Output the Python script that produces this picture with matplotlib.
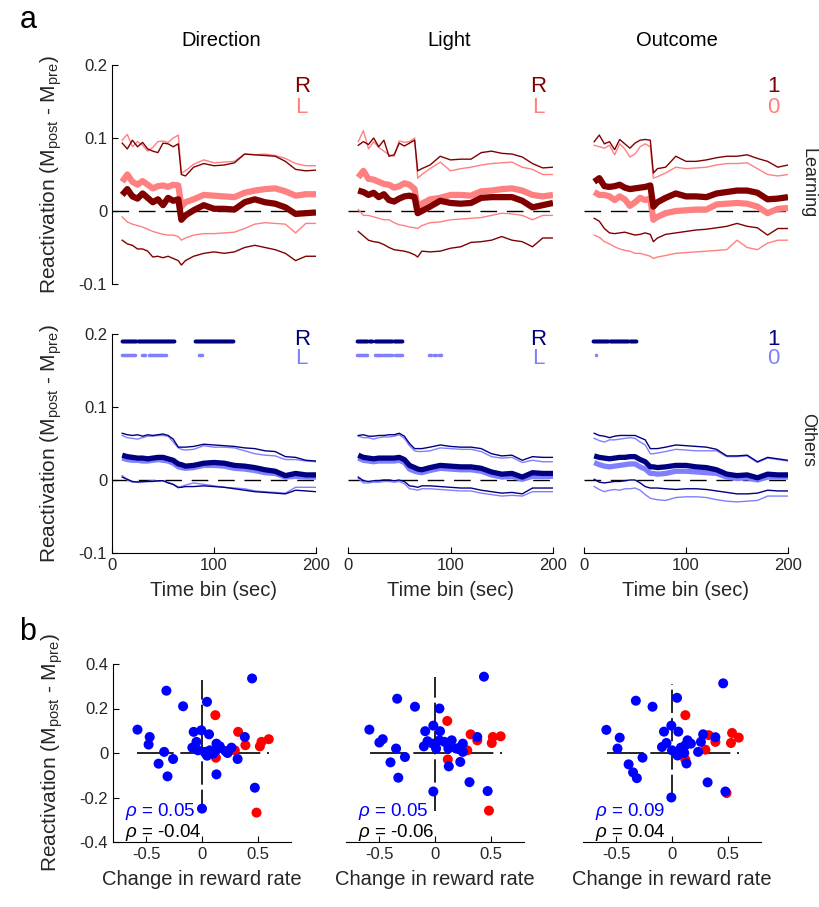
import matplotlib
matplotlib.use('Agg')
import matplotlib.pyplot as plt
import numpy as np

plt.rcParams['font.family'] = ['Liberation Sans', 'DejaVu Sans']
plt.rcParams['mathtext.fontset'] = 'custom'
plt.rcParams['mathtext.rm'] = 'Liberation Sans'
plt.rcParams['mathtext.it'] = 'Liberation Sans:italic'

# time bins (sec)
t = [10, 15, 20, 25, 30, 35, 40, 45, 50, 55, 60, 65, 68, 72, 80, 90, 100, 110, 120, 130, 140, 150, 160, 170, 180, 190, 200]

# ---- Learning, Direction (R / L) ----
dir_learn_R_hi = [0.093, 0.085, 0.097, 0.088, 0.094, 0.085, 0.082, 0.080, 0.093, 0.092, 0.088, 0.092, 0.050, 0.048, 0.060, 0.065, 0.062, 0.063, 0.066, 0.078, 0.077, 0.076, 0.075, 0.068, 0.057, 0.055, 0.056]
dir_learn_R = [0.022, 0.030, 0.020, 0.017, 0.024, 0.018, 0.012, 0.016, 0.008, 0.018, 0.014, 0.016, -0.012, -0.006, 0.001, 0.008, 0.003, 0.003, 0.002, 0.012, 0.016, 0.012, 0.010, 0.005, -0.004, -0.003, -0.002]
dir_learn_R_lo = [-0.040, -0.045, -0.047, -0.052, -0.052, -0.055, -0.063, -0.062, -0.064, -0.062, -0.065, -0.068, -0.074, -0.068, -0.062, -0.058, -0.056, -0.058, -0.056, -0.050, -0.047, -0.050, -0.053, -0.058, -0.068, -0.062, -0.062]
dir_learn_L_hi = [0.097, 0.105, 0.088, 0.095, 0.090, 0.082, 0.087, 0.095, 0.096, 0.094, 0.100, 0.104, 0.052, 0.055, 0.064, 0.070, 0.066, 0.067, 0.068, 0.078, 0.077, 0.078, 0.076, 0.072, 0.065, 0.062, 0.062]
dir_learn_L = [0.040, 0.050, 0.040, 0.036, 0.041, 0.036, 0.031, 0.034, 0.035, 0.033, 0.036, 0.035, 0.006, 0.012, 0.016, 0.022, 0.021, 0.020, 0.019, 0.025, 0.028, 0.030, 0.031, 0.027, 0.021, 0.023, 0.023]
dir_learn_L_lo = [-0.008, -0.015, -0.018, -0.020, -0.022, -0.025, -0.028, -0.030, -0.032, -0.033, -0.033, -0.035, -0.040, -0.037, -0.033, -0.031, -0.031, -0.030, -0.029, -0.024, -0.018, -0.016, -0.017, -0.018, -0.030, -0.017, -0.017]

# ---- Learning, Light (R / L) ----
lig_learn_R_hi = [0.090, 0.095, 0.091, 0.100, 0.088, 0.097, 0.075, 0.077, 0.093, 0.089, 0.093, 0.097, 0.055, 0.058, 0.063, 0.075, 0.070, 0.071, 0.071, 0.080, 0.082, 0.079, 0.078, 0.074, 0.065, 0.059, 0.060]
lig_learn_R = [0.028, 0.026, 0.022, 0.025, 0.019, 0.023, 0.015, 0.013, 0.017, 0.020, 0.021, 0.019, -0.003, 0.000, 0.006, 0.014, 0.011, 0.010, 0.011, 0.018, 0.019, 0.019, 0.019, 0.014, 0.005, 0.008, 0.011]
lig_learn_R_lo = [-0.028, -0.034, -0.040, -0.042, -0.043, -0.046, -0.050, -0.053, -0.054, -0.055, -0.057, -0.060, -0.063, -0.055, -0.056, -0.055, -0.051, -0.049, -0.043, -0.042, -0.040, -0.035, -0.040, -0.042, -0.049, -0.037, -0.037]
lig_learn_L_hi = [0.095, 0.110, 0.085, 0.095, 0.087, 0.082, 0.077, 0.075, 0.096, 0.094, 0.095, 0.100, 0.045, 0.050, 0.058, 0.067, 0.055, 0.058, 0.060, 0.063, 0.065, 0.066, 0.067, 0.060, 0.057, 0.050, 0.050]
lig_learn_L = [0.046, 0.055, 0.044, 0.043, 0.040, 0.037, 0.036, 0.032, 0.034, 0.038, 0.036, 0.030, 0.004, 0.010, 0.016, 0.018, 0.022, 0.022, 0.021, 0.027, 0.028, 0.030, 0.031, 0.028, 0.022, 0.020, 0.022]
lig_learn_L_lo = [0.002, -0.006, -0.006, -0.008, -0.010, -0.012, -0.012, -0.016, -0.019, -0.020, -0.022, -0.023, -0.024, -0.020, -0.016, -0.015, -0.012, -0.011, -0.010, -0.009, -0.006, -0.003, -0.004, -0.006, -0.012, -0.006, -0.006]

# ---- Learning, Outcome (1 / 0) ----
out_learn_1_hi = [0.095, 0.104, 0.092, 0.095, 0.084, 0.098, 0.092, 0.086, 0.093, 0.097, 0.098, 0.097, 0.052, 0.058, 0.060, 0.075, 0.068, 0.068, 0.070, 0.073, 0.075, 0.075, 0.077, 0.072, 0.068, 0.060, 0.063]
out_learn_1 = [0.040, 0.045, 0.034, 0.033, 0.034, 0.036, 0.032, 0.030, 0.031, 0.032, 0.033, 0.035, 0.006, 0.012, 0.018, 0.024, 0.020, 0.020, 0.019, 0.024, 0.026, 0.028, 0.028, 0.025, 0.016, 0.017, 0.019]
out_learn_1_lo = [-0.010, -0.014, -0.024, -0.030, -0.031, -0.030, -0.029, -0.031, -0.033, -0.032, -0.030, -0.032, -0.042, -0.037, -0.032, -0.030, -0.028, -0.026, -0.025, -0.023, -0.021, -0.017, -0.021, -0.023, -0.033, -0.024, -0.024]
out_learn_0_hi = [0.090, 0.088, 0.086, 0.090, 0.077, 0.092, 0.085, 0.074, 0.078, 0.088, 0.092, 0.088, 0.045, 0.047, 0.052, 0.060, 0.058, 0.059, 0.060, 0.063, 0.065, 0.065, 0.066, 0.058, 0.050, 0.048, 0.050]
out_learn_0 = [0.026, 0.022, 0.022, 0.020, 0.015, 0.020, 0.016, 0.007, 0.012, 0.018, 0.015, 0.017, -0.012, -0.008, -0.003, 0.000, 0.001, 0.002, 0.002, 0.009, 0.010, 0.011, 0.010, 0.006, -0.003, 0.003, 0.004]
out_learn_0_lo = [-0.033, -0.036, -0.042, -0.045, -0.049, -0.052, -0.054, -0.055, -0.058, -0.058, -0.060, -0.062, -0.065, -0.063, -0.061, -0.058, -0.057, -0.056, -0.055, -0.054, -0.053, -0.040, -0.050, -0.053, -0.044, -0.040, -0.040]

# ---- Others, Direction (R / L) ----
dir_oth_R_hi = [0.064, 0.062, 0.061, 0.062, 0.060, 0.062, 0.061, 0.062, 0.063, 0.061, 0.056, 0.045, 0.045, 0.045, 0.046, 0.049, 0.048, 0.047, 0.046, 0.044, 0.043, 0.040, 0.039, 0.032, 0.031, 0.027, 0.026]
dir_oth_R = [0.034, 0.032, 0.031, 0.030, 0.030, 0.029, 0.030, 0.031, 0.031, 0.029, 0.027, 0.022, 0.021, 0.019, 0.020, 0.023, 0.024, 0.023, 0.020, 0.019, 0.017, 0.014, 0.012, 0.006, 0.009, 0.007, 0.007]
dir_oth_R_lo = [0.004, 0.001, -0.002, -0.003, -0.002, -0.002, -0.002, -0.001, -0.001, -0.004, -0.006, -0.010, -0.010, -0.009, -0.009, -0.008, -0.009, -0.010, -0.012, -0.014, -0.016, -0.017, -0.018, -0.019, -0.014, -0.015, -0.016]
dir_oth_L_hi = [0.061, 0.058, 0.057, 0.056, 0.058, 0.060, 0.060, 0.061, 0.061, 0.060, 0.052, 0.044, 0.042, 0.041, 0.042, 0.047, 0.045, 0.045, 0.044, 0.040, 0.036, 0.034, 0.033, 0.028, 0.028, 0.026, 0.025]
dir_oth_L = [0.030, 0.028, 0.027, 0.027, 0.026, 0.026, 0.027, 0.028, 0.027, 0.026, 0.023, 0.018, 0.017, 0.016, 0.017, 0.020, 0.020, 0.019, 0.016, 0.015, 0.013, 0.010, 0.009, 0.004, 0.005, 0.004, 0.004]
dir_oth_L_lo = [0.006, 0.000, -0.003, -0.002, -0.003, -0.002, -0.001, -0.002, -0.001, -0.003, -0.006, -0.011, -0.009, -0.007, -0.004, -0.006, -0.008, -0.010, -0.011, -0.012, -0.015, -0.016, -0.017, -0.018, -0.010, -0.010, -0.010]

# ---- Others, Light (R / L) ----
lig_oth_R_hi = [0.061, 0.062, 0.060, 0.060, 0.061, 0.061, 0.062, 0.062, 0.064, 0.060, 0.050, 0.043, 0.043, 0.043, 0.045, 0.048, 0.046, 0.045, 0.045, 0.043, 0.036, 0.033, 0.034, 0.027, 0.032, 0.031, 0.031]
lig_oth_R = [0.034, 0.031, 0.030, 0.029, 0.030, 0.030, 0.030, 0.030, 0.031, 0.028, 0.020, 0.017, 0.015, 0.014, 0.017, 0.020, 0.019, 0.018, 0.018, 0.016, 0.011, 0.008, 0.009, 0.004, 0.010, 0.009, 0.009]
lig_oth_R_lo = [0.004, -0.001, -0.002, -0.001, -0.001, 0.000, 0.000, -0.001, 0.000, -0.002, -0.008, -0.009, -0.010, -0.008, -0.008, -0.009, -0.010, -0.011, -0.011, -0.014, -0.016, -0.018, -0.017, -0.019, -0.011, -0.011, -0.011]
lig_oth_L_hi = [0.060, 0.058, 0.058, 0.056, 0.058, 0.059, 0.059, 0.060, 0.062, 0.057, 0.047, 0.040, 0.039, 0.039, 0.040, 0.044, 0.043, 0.042, 0.042, 0.039, 0.032, 0.030, 0.031, 0.024, 0.027, 0.025, 0.025]
lig_oth_L = [0.030, 0.027, 0.026, 0.025, 0.026, 0.026, 0.026, 0.026, 0.027, 0.024, 0.015, 0.012, 0.011, 0.010, 0.013, 0.016, 0.015, 0.014, 0.014, 0.012, 0.007, 0.004, 0.005, 0.001, 0.005, 0.005, 0.005]
lig_oth_L_lo = [0.002, -0.004, -0.004, -0.003, -0.003, -0.002, -0.002, -0.003, -0.002, -0.005, -0.012, -0.013, -0.014, -0.012, -0.012, -0.013, -0.014, -0.015, -0.015, -0.018, -0.020, -0.022, -0.021, -0.022, -0.016, -0.016, -0.016]

# ---- Others, Outcome (1 / 0) ----
out_oth_1_hi = [0.064, 0.061, 0.060, 0.058, 0.060, 0.061, 0.061, 0.061, 0.061, 0.058, 0.055, 0.043, 0.043, 0.043, 0.045, 0.048, 0.047, 0.046, 0.045, 0.042, 0.033, 0.033, 0.034, 0.025, 0.031, 0.029, 0.027]
out_oth_1 = [0.033, 0.031, 0.030, 0.029, 0.030, 0.031, 0.031, 0.032, 0.032, 0.028, 0.025, 0.018, 0.018, 0.017, 0.018, 0.020, 0.020, 0.018, 0.017, 0.014, 0.008, 0.006, 0.007, 0.003, 0.008, 0.007, 0.007]
out_oth_1_lo = [0.001, -0.003, -0.004, -0.003, -0.002, -0.002, -0.001, 0.000, 0.000, -0.004, -0.009, -0.011, -0.011, -0.011, -0.012, -0.013, -0.012, -0.012, -0.013, -0.015, -0.017, -0.019, -0.019, -0.018, -0.014, -0.015, -0.015]
out_oth_0_hi = [0.057, 0.054, 0.052, 0.055, 0.055, 0.056, 0.057, 0.058, 0.057, 0.052, 0.048, 0.036, 0.036, 0.037, 0.039, 0.042, 0.041, 0.040, 0.040, 0.040, 0.032, 0.032, 0.033, 0.024, 0.030, 0.028, 0.026]
out_oth_0 = [0.024, 0.021, 0.019, 0.018, 0.019, 0.020, 0.021, 0.022, 0.022, 0.018, 0.015, 0.009, 0.009, 0.008, 0.009, 0.012, 0.012, 0.011, 0.010, 0.009, 0.004, 0.002, 0.003, 0.000, 0.004, 0.004, 0.004]
out_oth_0_lo = [-0.009, -0.013, -0.016, -0.014, -0.013, -0.014, -0.012, -0.012, -0.011, -0.014, -0.020, -0.025, -0.026, -0.027, -0.028, -0.024, -0.023, -0.023, -0.024, -0.027, -0.029, -0.030, -0.029, -0.028, -0.022, -0.022, -0.022]

# significant time bins (start, end) in the Others row
dir_sig_R = [(10, 61), (81, 119)]
dir_sig_L = [(10, 23), (29, 32), (36, 53), (85, 88)]
lig_sig_R = [(9, 23), (26, 43), (45, 53)]
lig_sig_L = [(9, 19), (26, 32), (34, 43), (46, 53), (79, 81), (84, 86), (89, 91)]
out_sig_R = [(9, 24), (25, 43), (45, 51)]
out_sig_L = [(12, 12)]

titles = ['Direction', 'Light', 'Outcome']
cond_labels = [('R', 'L'), ('R', 'L'), ('1', '0')]

# ---- scatter: change in reward rate vs reactivation ----
sc1_blue_x = [0.45, -0.32, -0.17, 0.045, -0.58, -0.47, -0.48, -0.34, -0.26, -0.39, -0.31, -0.075, -0.006, 0.063, -0.05, -0.087, -0.036, 0.024, 0.07, 0.13, 0.145, 0.10, 0.045, 0.21, 0.265, 0.23, 0.32, 0.385, 0.13, 0.475, 0.0, 0.16, 0.12]
sc1_blue_y = [0.335, 0.28, 0.21, 0.23, 0.105, 0.072, 0.038, 0.005, -0.027, -0.048, -0.105, 0.095, 0.102, 0.084, 0.05, 0.024, 0.012, 0.005, 0.012, 0.042, 0.02, -0.003, -0.012, 0.009, 0.024, 0.0, -0.027, 0.072, -0.096, -0.156, -0.25, 0.03, 0.01]
sc1_red_x = [0.12, 0.325, 0.39, 0.6, 0.535, 0.52, 0.295, 0.125, 0.49]
sc1_red_y = [0.17, 0.095, 0.035, 0.062, 0.05, 0.03, 0.012, -0.021, -0.268]

sc2_blue_x = [0.44, -0.34, -0.18, 0.04, -0.59, -0.47, -0.5, -0.35, -0.27, -0.4, -0.33, -0.015, -0.088, 0.045, -0.067, -0.1, -0.02, 0.01, 0.04, 0.085, 0.15, 0.12, 0.19, 0.23, 0.25, 0.25, 0.124, 0.227, 0.38, 0.31, 0.473, -0.015]
sc2_blue_y = [0.343, 0.244, 0.208, 0.2, 0.105, 0.062, 0.047, 0.02, -0.018, -0.042, -0.111, 0.123, 0.098, 0.098, 0.053, 0.03, 0.042, 0.02, 0.057, 0.05, 0.057, 0.02, 0.02, 0.027, 0.042, 0.005, -0.06, -0.04, 0.072, -0.131, -0.171, -0.173]
sc2_red_x = [0.11, 0.32, 0.38, 0.52, 0.59, 0.51, 0.29, 0.115, 0.485]
sc2_red_y = [0.144, 0.084, 0.057, 0.072, 0.075, 0.045, 0.012, -0.029, -0.259]

sc3_blue_x = [0.46, -0.325, -0.175, 0.045, -0.59, -0.47, -0.49, -0.265, -0.39, -0.35, -0.316, -0.006, -0.072, 0.057, -0.05, -0.09, 0.0, 0.08, 0.12, 0.14, 0.17, 0.11, 0.05, 0.13, 0.235, 0.26, 0.28, 0.39, 0.32, 0.48, -0.006]
sc3_blue_y = [0.313, 0.235, 0.208, 0.248, 0.104, 0.069, 0.02, -0.021, -0.051, -0.087, -0.113, 0.123, 0.096, 0.096, 0.045, 0.027, 0.012, 0.024, 0.035, 0.057, 0.042, 0.0, -0.011, -0.047, 0.005, 0.05, 0.084, 0.071, -0.132, -0.173, -0.2]
sc3_red_x = [0.12, 0.39, 0.54, 0.6, 0.53, 0.3, 0.12, 0.49, 0.33]
sc3_red_y = [0.17, 0.05, 0.09, 0.069, 0.045, 0.015, -0.03, -0.18, 0.08]

rho_blue = ['0.05', '0.05', '0.09']
rho_black = ['-0.04', '-0.06', '0.04']
cross_h = [(-0.58, 0.6), (-0.58, 0.6), (-0.58, 0.6)]
cross_v = [(-0.27, 0.33), (-0.26, 0.34), (-0.2, 0.31)]

# colours
DRED, LRED = '#800000', '#ff8080'
DBLUE, LBLUE = '#000080', '#8080ff'
TXT = '#262626'

W, H = 819, 907
fig = plt.figure(figsize=(W / 100, H / 100), dpi=100)


def box(x0, y0, x1, y1):
    return [x0 / W, 1 - y1 / H, (x1 - x0) / W, (y1 - y0) / H]


line_cols = [(112, 316), (348, 553), (584, 788)]
sc_cols = [(113, 291), (346, 524), (583, 761)]

learn = [
    (dir_learn_R_hi, dir_learn_R, dir_learn_R_lo, dir_learn_L_hi, dir_learn_L, dir_learn_L_lo),
    (lig_learn_R_hi, lig_learn_R, lig_learn_R_lo, lig_learn_L_hi, lig_learn_L, lig_learn_L_lo),
    (out_learn_1_hi, out_learn_1, out_learn_1_lo, out_learn_0_hi, out_learn_0, out_learn_0_lo),
]
others = [
    (dir_oth_R_hi, dir_oth_R, dir_oth_R_lo, dir_oth_L_hi, dir_oth_L, dir_oth_L_lo),
    (lig_oth_R_hi, lig_oth_R, lig_oth_R_lo, lig_oth_L_hi, lig_oth_L, lig_oth_L_lo),
    (out_oth_1_hi, out_oth_1, out_oth_1_lo, out_oth_0_hi, out_oth_0, out_oth_0_lo),
]
sigs = [(dir_sig_R, dir_sig_L), (lig_sig_R, lig_sig_L), (out_sig_R, out_sig_L)]

ylab = 'Reactivation (M$_{\\mathrm{post}}$ - M$_{\\mathrm{pre}}$)'


def style(ax, left, bottom):
    for s in ['top', 'right']:
        ax.spines[s].set_visible(False)
    ax.spines['left'].set_visible(left)
    ax.spines['bottom'].set_visible(bottom)
    ax.tick_params(direction='in', length=4, width=0.8, labelsize=12, labelcolor=TXT,
                   left=left, labelleft=left, bottom=bottom, labelbottom=bottom)
    ax.patch.set_alpha(0)


for row, (data, dark, light, (y0, y1)) in enumerate([
        (learn, DRED, LRED, (65, 284)),
        (others, DBLUE, LBLUE, (334, 553))]):
    lwt = 4.5 if row == 0 else 3.8
    for c in range(3):
        ax = fig.add_axes(box(line_cols[c][0], y0, line_cols[c][1], y1))
        hiD, mD, loD, hiL, mL, loL = data[c]
        ax.plot([0, 200], [0, 0], color='k', lw=1, ls=(0, (12, 7)), zorder=1)
        ax.plot(t, hiL, color=light, lw=1, zorder=2)
        ax.plot(t, loL, color=light, lw=1, zorder=2)
        ax.plot(t, hiD, color=dark, lw=1, zorder=2)
        ax.plot(t, loD, color=dark, lw=1, zorder=2)
        ax.plot(t, mL, color=light, lw=lwt, zorder=3, solid_capstyle='butt')
        ax.plot(t, mD, color=dark, lw=lwt, zorder=4, solid_capstyle='butt')
        la, lb = cond_labels[c]
        if row == 0:
            ax.text(186, 0.170, la, color=dark, fontsize=16, ha='center', va='center')
            ax.text(186, 0.142, lb, color=light, fontsize=16, ha='center', va='center')
        else:
            ax.text(186, 0.193, la, color=dark, fontsize=16, ha='center', va='center')
            ax.text(186, 0.167, lb, color=light, fontsize=16, ha='center', va='center')
            sR, sL = sigs[c]
            for a, b in sR:
                xs = np.arange(a, b + 1)
                ax.plot(xs, np.full(len(xs), 0.191), ls='none', marker='.', ms=3.5, color=dark)
            for a, b in sL:
                xs = np.arange(a, b + 1)
                ax.plot(xs, np.full(len(xs), 0.171), ls='none', marker='.', ms=3.0, color=light)
        ax.set_xlim(0, 200)
        ax.set_ylim(-0.1, 0.2)
        ax.set_yticks([-0.1, 0, 0.1, 0.2])
        ax.set_yticklabels(['-0.1', '0', '0.1', '0.2'])
        ax.set_xticks([0, 100, 200])
        ax.set_xticklabels(['0', '100', '200'])
        style(ax, c == 0, row == 1)
        if c == 0:
            ax.set_ylabel(ylab, fontsize=15, color=TXT)
            ax.yaxis.set_label_coords(-0.235, 0.5)
        if row == 1:
            ax.set_xlabel('Time bin (sec)', fontsize=14.5, color=TXT, labelpad=6)

# column titles and row labels
for x, s in zip([221, 449, 677], titles):
    fig.text(x / W, 1 - 40 / H, s, fontsize=14.5, ha='center', va='center', color='k')
fig.text(808 / W, 1 - 183 / H, 'Learning', fontsize=13, rotation=270, ha='center', va='center', color=TXT)
fig.text(808 / W, 1 - 440 / H, 'Others', fontsize=13, rotation=270, ha='center', va='center', color=TXT)
fig.text(28 / W, 1 - 20 / H, 'a', fontsize=22, ha='center', va='center')
fig.text(28 / W, 1 - 632 / H, 'b', fontsize=22, ha='center', va='center')

# scatter row
scat = [(sc1_blue_x, sc1_blue_y, sc1_red_x, sc1_red_y),
        (sc2_blue_x, sc2_blue_y, sc2_red_x, sc2_red_y),
        (sc3_blue_x, sc3_blue_y, sc3_red_x, sc3_red_y)]
for c in range(3):
    ax = fig.add_axes(box(sc_cols[c][0], 664, sc_cols[c][1], 842))
    bx, by, rx, ry = scat[c]
    ax.plot(cross_h[c], [0, 0], color='k', lw=1.2, ls=(0, (22, 4)), zorder=1)
    ax.plot([0, 0], cross_v[c], color='k', lw=1.2, ls=(0, (14, 3)), zorder=1)
    ax.scatter(rx, ry, s=52, color='#ff0000', edgecolors='none', zorder=2)
    ax.scatter(bx, by, s=52, color='#0000ff', edgecolors='none', zorder=3)
    ax.text(0.07, 0.17, '$\\rho$ = ' + rho_blue[c], transform=ax.transAxes, color='#0000ff',
            fontsize=13.5, va='center', ha='left')
    ax.text(0.07, 0.055, '$\\rho$ = ' + rho_black[c], transform=ax.transAxes, color='k',
            fontsize=13.5, va='center', ha='left')
    ax.set_xlim(-0.8, 0.8)
    ax.set_ylim(-0.4, 0.4)
    ax.set_xticks([-0.5, 0, 0.5])
    ax.set_xticklabels(['-0.5', '0', '0.5'])
    ax.set_yticks([-0.4, -0.2, 0, 0.2, 0.4])
    ax.set_yticklabels(['-0.4', '-0.2', '0', '0.2', '0.4'])
    style(ax, c == 0, True)
    ax.set_xlabel('Change in reward rate', fontsize=14.5, color=TXT, labelpad=6)
    if c == 0:
        ax.set_ylabel(ylab, fontsize=15, color=TXT)
        ax.yaxis.set_label_coords(-0.27, 0.5)

fig.savefig('out.png', dpi=100)
